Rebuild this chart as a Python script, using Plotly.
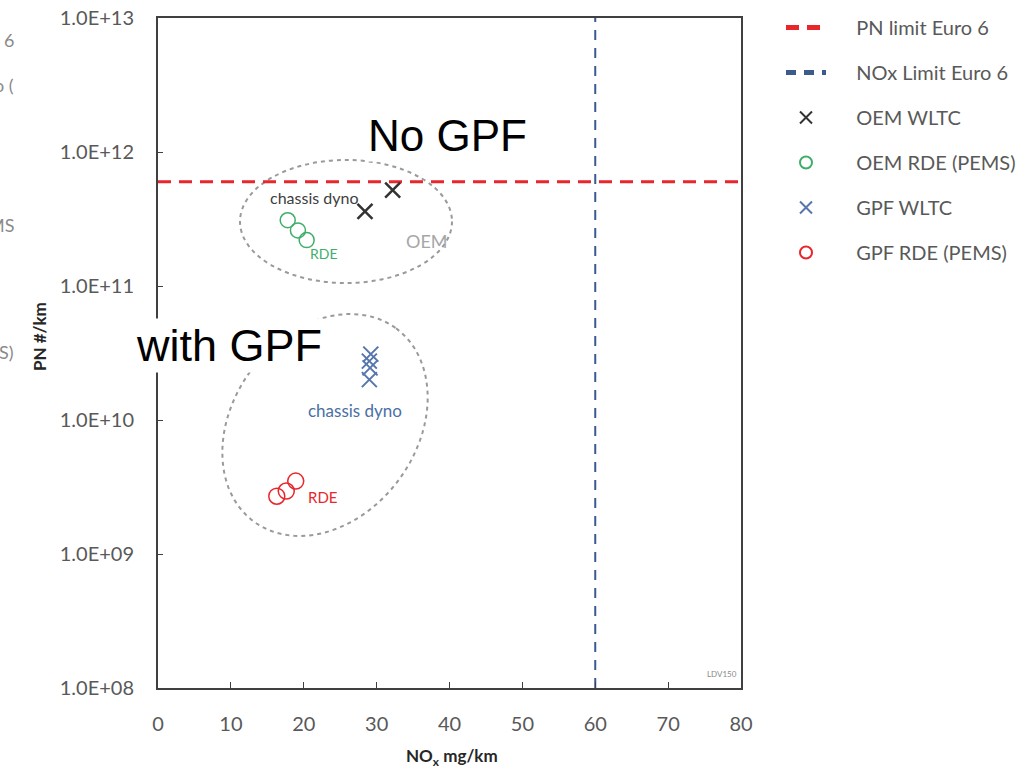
import numpy as np
import plotly.graph_objects as go

# ---- data ----
pn_limit = 6e11
nox_limit = 60
x_range = [0, 80]
y_range = [1e8, 1e13]

oem_wltc_nox = [32.2, 28.4]
oem_wltc_pn = [5.2e11, 3.6e11]

oem_rde_nox = [17.8, 19.2, 20.4]
oem_rde_pn = [3.1e11, 2.6e11, 2.2e11]

gpf_wltc_nox = [29.2, 29.0, 29.1, 29.0]
gpf_wltc_pn = [3.1e10, 2.75e10, 2.45e10, 2.0e10]

gpf_rde_nox = [16.3, 17.6, 18.9]
gpf_rde_pn = [2.7e9, 2.95e9, 3.5e9]

y_tickvals = [1e8, 1e9, 1e10, 1e11, 1e12, 1e13]
y_ticktext = ["1.0E+08", "1.0E+09", "1.0E+10", "1.0E+11", "1.0E+12", "1.0E+13"]
x_tickvals = [0, 10, 20, 30, 40, 50, 60, 70, 80]

# ---- layout geometry ----
W, H = 1032, 775
L, R, T, B = 158, 741, 18, 688

def px2paper(X, Y):
    return (X - L) / (R - L), (B - Y) / (B - T)

SMALL = "Lato, 'Open Sans', sans-serif"
BIG = "'Liberation Sans', Arial, sans-serif"
GRAY = "#595959"
PAD = "\u2003\u00a0\u00a0"  # extra gap between legend symbol and text

fig = go.Figure()
fig.add_trace(go.Scatter(x=x_range, y=[pn_limit, pn_limit], mode="lines",
                         line=dict(color="#e8262c", width=3, dash="13px,8px"),
                         name=PAD + "PN limit Euro 6", legendgroup="a"))
fig.add_trace(go.Scatter(x=[nox_limit, nox_limit], y=y_range, mode="lines",
                         line=dict(color="#3b5b8f", width=2, dash="10px,8px"),
                         name=PAD + "NOx Limit Euro 6", legendgroup="b"))
fig.add_trace(go.Scatter(x=oem_wltc_nox, y=oem_wltc_pn, mode="markers",
                         marker=dict(symbol="x-thin", size=15, line=dict(color="#333333", width=2.5)),
                         name=PAD + "OEM WLTC", legendgroup="c"))
fig.add_trace(go.Scatter(x=oem_rde_nox, y=oem_rde_pn, mode="markers",
                         marker=dict(symbol="circle-open", size=15, color="#3fae6a", line=dict(width=1.5)),
                         name=PAD + "OEM RDE (PEMS)", legendgroup="d"))
fig.add_trace(go.Scatter(x=gpf_wltc_nox, y=gpf_wltc_pn, mode="markers",
                         marker=dict(symbol="x-thin", size=15, line=dict(color="#5676ad", width=2)),
                         name=PAD + "GPF WLTC", legendgroup="e"))
fig.add_trace(go.Scatter(x=gpf_rde_nox, y=gpf_rde_pn, mode="markers",
                         marker=dict(symbol="circle-open", size=16, color="#e8262c", line=dict(width=1.5)),
                         name=PAD + "GPF RDE (PEMS)", legendgroup="f"))

shapes = []
# OEM ellipse
x0, y0 = px2paper(240, 283)
x1, y1 = px2paper(452, 160)
shapes.append(dict(type="circle", xref="paper", yref="paper", x0=x0, y0=y0, x1=x1, y1=y1,
                   line=dict(color="#9a9a9a", width=2, dash="4px,4px"), layer="below"))
# GPF tilted ellipse
cx, cy, a, b = 325, 425, 120, 92
ang = np.arctan2(-102, 75)
t = np.linspace(0, 2 * np.pi, 90)
ex = cx + a * np.cos(t) * np.cos(ang) - b * np.sin(t) * np.sin(ang)
ey = cy + a * np.cos(t) * np.sin(ang) + b * np.sin(t) * np.cos(ang)
pts = [px2paper(X, Y) for X, Y in zip(ex, ey)]
path = "M " + " L ".join(f"{p[0]:.4f},{p[1]:.4f}" for p in pts) + " Z"
shapes.append(dict(type="path", xref="paper", yref="paper", path=path,
                   line=dict(color="#9a9a9a", width=2, dash="4px,4px"), layer="below"))
fig.update_layout(shapes=shapes)

def ann(X, Y, text, size, color, family=SMALL, bg=None, xanchor="center", angle=0):
    px, py = px2paper(X, Y)
    d = dict(x=px, y=py, xref="paper", yref="paper", text=text, showarrow=False,
             font=dict(size=size, color=color, family=family), xanchor=xanchor, yanchor="middle",
             textangle=angle)
    if bg:
        d["bgcolor"] = bg
    fig.add_annotation(**d)

ann(314, 197, "chassis dyno", 16, "#404040")
ann(324, 253, "RDE", 14, "#3fae6a")
ann(427, 241, "OEM", 18, "#a6a6a6")
ann(355, 410, "chassis dyno", 17, "#4a6fa5")
ann(322, 497, "RDE", 15, "#e8262c")
ann(722, 674, "LDV150", 8, "#8a8a8a")
ann(447, 135, "No GPF", 44, "#000000", family=BIG, bg="white")
ann(229, 345, "with GPF", 45, "#000000", family=BIG, bg="white")

# axis titles
ann(39, 337, "<b>PN #/km</b>", 17, "#262626", angle=-90)
ann(452, 757, "<b>NO<sub>x</sub> mg/km</b>", 17, "#262626")

# cropped remnants at the left edge
for Y, txt in [(40, "6"), (85, "o ("), (225, "MS"), (352, "S)")]:
    px, py = px2paper(16, Y)
    fig.add_annotation(x=px, y=py, xref="paper", yref="paper", text=txt, showarrow=False,
                       font=dict(size=18, color="#8a8a8a", family=SMALL), xanchor="right", yanchor="middle")

fig.update_xaxes(range=x_range, tickvals=x_tickvals, showgrid=False, zeroline=False,
                 showline=True, linecolor="#404040", linewidth=2, mirror=True,
                 ticks="inside", ticklen=6, tickcolor="#404040", ticklabelstandoff=17,
                 tickfont=dict(size=20, color=GRAY, family=SMALL))
fig.update_yaxes(type="log", range=[8, 13], tickvals=y_tickvals, ticktext=y_ticktext,
                 showgrid=False, zeroline=False,
                 showline=True, linecolor="#404040", linewidth=2, mirror=True,
                 ticks="inside", ticklen=5, tickcolor="#404040", ticklabelstandoff=18,
                 tickfont=dict(size=20, color=GRAY, family=SMALL))

fig.update_layout(width=W, height=H,
                  margin=dict(l=L, r=W - R, t=T, b=H - B, autoexpand=False),
                  plot_bgcolor="white", paper_bgcolor="white",
                  legend=dict(x=(781 - L) / (R - L), y=(B - 8) / (B - T), xanchor="left", yanchor="top",
                              tracegroupgap=16, font=dict(size=20, color=GRAY, family=SMALL),
                              bgcolor="rgba(0,0,0,0)", itemwidth=40, itemsizing="constant"))
fig.write_html("out.html")
